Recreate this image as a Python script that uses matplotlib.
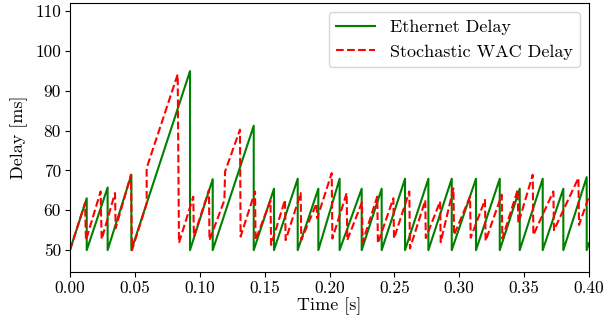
import matplotlib
matplotlib.use("Agg")
import matplotlib.pyplot as plt

# Ethernet delay: sawtooth vertices (time [s], delay [ms])
eth_t = [0.0, 0.0129, 0.0129, 0.0290, 0.0290, 0.0473, 0.0473, 0.0925, 0.0925,
         0.1100, 0.1100, 0.1416, 0.1416, 0.1572, 0.1572, 0.1755, 0.1755,
         0.1914, 0.1914, 0.2078, 0.2078, 0.2248, 0.2248, 0.2402, 0.2402,
         0.2582, 0.2582, 0.2762, 0.2762, 0.2942, 0.2942, 0.3129, 0.3129,
         0.3312, 0.3312, 0.3466, 0.3466, 0.3643, 0.3643, 0.3802, 0.3802,
         0.3982, 0.3982, 0.4000]
eth_d = [50.0, 63.0, 50.0, 65.7, 50.0, 68.9, 50.0, 94.9, 50.0,
         67.8, 50.0, 81.2, 50.0, 65.4, 50.0, 67.9, 50.0,
         65.4, 50.0, 67.9, 50.0, 65.4, 50.0, 65.4, 50.0,
         67.9, 50.0, 67.9, 50.0, 67.9, 50.0, 67.9, 50.0,
         67.9, 50.0, 65.4, 50.0, 67.9, 50.0, 65.4, 50.0,
         68.3, 50.0, 51.8]

# Stochastic WAC delay vertices
wac_t = [0.0, 0.0116, 0.0123, 0.0236, 0.0244, 0.0347, 0.0352, 0.0470, 0.0478,
         0.0591, 0.0591, 0.0830, 0.0840, 0.0950, 0.0955, 0.1071, 0.1075,
         0.1190, 0.1195, 0.1310, 0.1315, 0.1426, 0.1430, 0.1545, 0.1550,
         0.1657, 0.1662, 0.1778, 0.1782, 0.1900, 0.1905, 0.2017, 0.2022,
         0.2132, 0.2137, 0.2250, 0.2255, 0.2368, 0.2373, 0.2492, 0.2497,
         0.2615, 0.2620, 0.2738, 0.2742, 0.2852, 0.2857, 0.2955, 0.2960,
         0.3083, 0.3088, 0.3198, 0.3203, 0.3327, 0.3332, 0.3450, 0.3455,
         0.3566, 0.3571, 0.3725, 0.3730, 0.3918, 0.3923, 0.4000]
wac_d = [50.0, 61.8, 52.5, 64.7, 52.7, 64.3, 55.5, 68.9, 50.0,
         61.7, 70.6, 94.1, 51.8, 63.4, 53.4, 65.1, 52.5,
         62.5, 69.7, 80.2, 53.4, 64.7, 52.5, 62.4, 51.3,
         62.6, 52.5, 64.3, 52.5, 61.7, 58.0, 69.3, 52.9,
         64.3, 52.5, 62.0, 52.0, 63.4, 51.7, 63.0, 52.9,
         64.7, 50.4, 62.5, 53.0, 62.2, 52.0, 65.5, 53.8,
         63.4, 53.1, 62.6, 52.3, 63.9, 52.9, 65.1, 56.7,
         68.9, 53.8, 64.7, 55.0, 68.1, 56.3, 63.5]

x_ticks = [0.0, 0.05, 0.10, 0.15, 0.20, 0.25, 0.30, 0.35, 0.40]
y_ticks = [50, 60, 70, 80, 90, 100, 110]

plt.rcParams["font.family"] = "serif"
plt.rcParams["font.serif"] = ["cmr10"]
plt.rcParams["mathtext.fontset"] = "cm"
plt.rcParams["axes.formatter.use_mathtext"] = True
plt.rcParams["font.size"] = 13

fig = plt.figure(figsize=(6.07, 3.24), dpi=100)
ax = fig.add_axes([0.1153, 0.1605, 0.8551, 0.8302])

ax.plot(eth_t, eth_d, color="green", lw=1.5, label="Ethernet Delay")
ax.plot(wac_t, wac_d, color="red", lw=1.5, ls="--", label="Stochastic WAC Delay")

ax.set_xlim(0, 0.4)
ax.set_ylim(44.5, 112)
ax.set_xticks(x_ticks, labels=[f"{v:.2f}" for v in x_ticks])
ax.set_yticks(y_ticks, labels=[str(v) for v in y_ticks])
ax.tick_params(labelsize=12.5, pad=3)
ax.set_xlabel("Time [s]", fontsize=13, labelpad=1)
ax.set_ylabel("Delay [ms]", fontsize=13, labelpad=5)
ax.legend(loc="upper right", fontsize=13, borderaxespad=0.5, handlelength=2.2)

fig.savefig("out.png", dpi=100)
